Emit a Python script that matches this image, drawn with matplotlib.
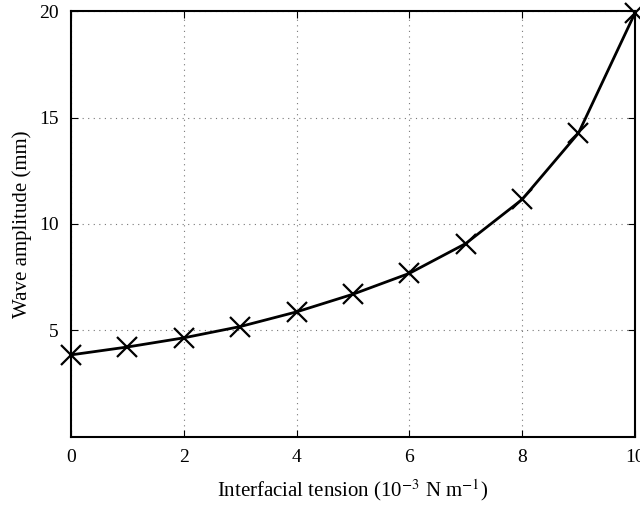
import numpy as np
import matplotlib.pyplot as plt

tension = [0, 1, 2, 3, 4, 5, 6, 7, 8, 9, 10]
amplitude = [3.85, 4.22, 4.65, 5.18, 5.87, 6.7, 7.68, 9.08, 11.15, 14.27, 19.9]

plt.rcParams['font.family'] = ['Liberation Serif', 'DejaVu Serif']
plt.rcParams['mathtext.fontset'] = 'stix'

fig = plt.figure(figsize=(6.4, 5.05), dpi=100)
ax = fig.add_axes([0.111, 0.135, 0.881, 0.843])

ax.plot(tension, amplitude, color='black', lw=2, marker='x', ms=14, mew=1.6,
        clip_on=False, zorder=5)

ax.set_xlim(0, 10)
ax.set_ylim(0, 20)
ax.set_xticks([0, 2, 4, 6, 8, 10])
ax.set_yticks([5, 10, 15, 20])
ax.grid(True, linestyle=(0, (1, 4)), color='#777777', lw=0.8)
ax.tick_params(direction='in', labelsize=14, length=5, top=True, right=True, pad=9)
for s in ax.spines.values():
    s.set_linewidth(1.5)

ax.set_xlabel(r'Interfacial tension (10$^{-3}$ N m$^{-1}$)', fontsize=15, labelpad=8)
ax.set_ylabel('Wave amplitude (mm)', fontsize=15, labelpad=5)

fig.savefig('out.png', dpi=100)
